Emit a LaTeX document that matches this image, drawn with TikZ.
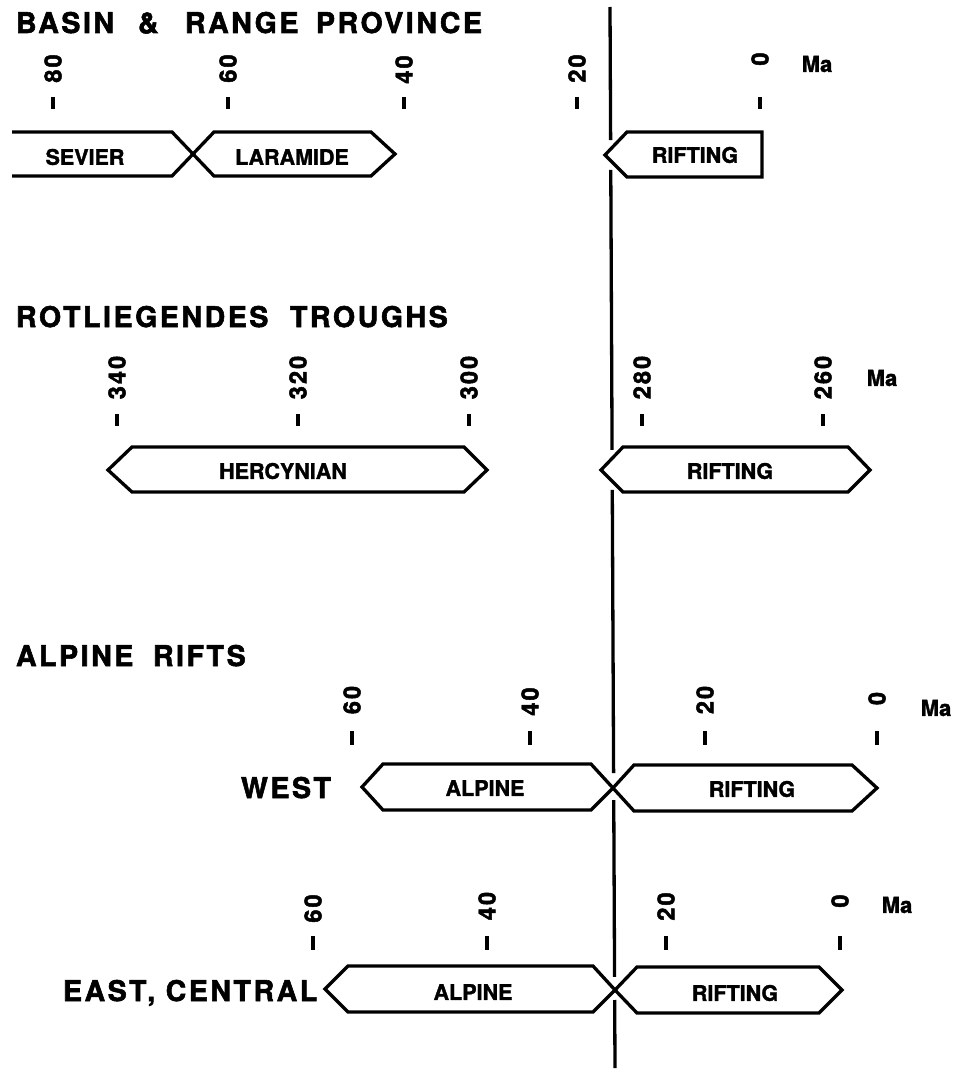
\documentclass[tikz,border=0pt]{standalone}
\usepackage{fontspec}
\setmainfont{TeX Gyre Heros}[FakeBold=1.5]
\newfontfamily\trackf{TeX Gyre Heros}[LetterSpace=9,FakeBold=2]
\usetikzlibrary{calc}
\tikzset{
  every node/.style={inner sep=0pt, outer sep=0pt},
  ttl/.style={font=\trackf\bfseries\fontsize{28.5}{30}\selectfont, anchor=base west},
  lbl/.style={font=\bfseries\fontsize{21.5}{23}\selectfont},
  num/.style={font=\trackf\bfseries\fontsize{23.5}{24}\selectfont, rotate=90},
  ma/.style={font=\bfseries\fontsize{22}{24}\selectfont},
  boxline/.style={line width=3.3pt, line join=miter},
  tickline/.style={line width=4pt},
  vline/.style={line width=3.3pt},
}
\begin{document}
\begin{tikzpicture}[x=1pt,y=-1pt]
\useasboundingbox (0,0) rectangle (954,1070);

% vertical reference line with gaps
\coordinate (vt) at (610,7);
\coordinate (vb) at (615,1068);
\draw[vline] (vt) -- ($(vt)!0.1254!(vb)$);
\draw[vline] ($(vt)!0.1536!(vb)$) -- ($(vt)!0.4175!(vb)$);
\draw[vline] ($(vt)!0.4552!(vb)$) -- ($(vt)!0.7220!(vb)$);
\draw[vline] ($(vt)!0.7474!(vb)$) -- ($(vt)!0.9142!(vb)$);
\draw[vline] ($(vt)!0.9359!(vb)$) -- (vb);

% ---------- BASIN & RANGE ----------
\node[ttl] (t1a) at (16,33) {BASIN};
\node[ttl] (t1b) at (138,33) {\&};
\node[ttl] (t1c) at (185,33) {RANGE};
\node[ttl] (t1d) at (316,33) {PROVINCE};

\foreach \x/\y/\t [count=\i] in {53/68.5/80,228/68.5/60,404/69.5/40,577/68.5/20,760/59/0}{
  \node[num] (n1\i) at (\x,\y) {\t};
}
\foreach \x in {53,228,404,577,760}{ \draw[tickline] (\x,97) -- (\x,109); }
\node[ma] (ma1) at (817,64) {Ma};

\draw[boxline] (12,132) -- (172,132) -- (193,154) -- (172,176) -- (12,176);
\draw[boxline] (193,154) -- (214,132) -- (371,132) -- (395,154) -- (371,176) -- (214,176) -- cycle;
\draw[boxline] (605,155) -- (627,132) -- (762,132) -- (762,177) -- (627,177) -- cycle;
\node[lbl] (sev) at (85,157) {SEVIER};
\node[lbl] (lar) at (292,157) {LARAMIDE};
\node[lbl] (rif1) at (695,155) {RIFTING};

% ---------- ROTLIEGENDES ----------
\node[ttl] (t2a) at (16,327) {ROTLIEGENDES};
\node[ttl] (t2b) at (290,327) {TROUGHS};

\foreach \x/\t [count=\i] in {117/340,298/320,469/300,642/280,823/260}{
  \node[num] (n2\i) at (\x,377.5) {\t};
  \draw[tickline] (\x,414) -- (\x,426);
}
\node[ma] (ma2) at (882,378) {Ma};

\draw[boxline] (108,470) -- (132,447) -- (464,447) -- (487,470) -- (464,492) -- (132,492) -- cycle;
\draw[boxline] (601,470) -- (623,447) -- (848,447) -- (870,470) -- (848,492) -- (623,492) -- cycle;
\node[lbl] (her) at (283,471) {HERCYNIAN};
\node[lbl] (rif2) at (730,471) {RIFTING};

% ---------- ALPINE RIFTS ----------
\node[ttl] (t3a) at (16,666) {ALPINE};
\node[ttl] (t3b) at (153,666) {RIFTS};

\foreach \x/\y/\t [count=\i] in {352/700/60,530/701.5/40,705/700/20,877/698.5/0}{
  \node[num] (n3\i) at (\x,\y) {\t};
  \draw[tickline] (\x,731) -- (\x,745);
}
\node[ma] (ma3) at (936,708) {Ma};

\node[ttl] (west) at (241,798) {WEST};
\draw[boxline] (362,787) -- (383,764) -- (591,764) -- (613,788) -- (591,810) -- (383,810) -- cycle;
\draw[boxline] (613,788) -- (634,765) -- (852,765) -- (877,788) -- (852,811) -- (634,811) -- cycle;
\node[lbl] (alp1) at (485,788) {ALPINE};
\node[lbl] (rif3) at (752,789) {RIFTING};

% ---------- EAST, CENTRAL ----------
\foreach \x/\y/\t [count=\i] in {313/908.5/60,487/906/40,666/906.5/20,840/901/0}{
  \node[num] (n4\i) at (\x,\y) {\t};
  \draw[tickline] (\x,936) -- (\x,950);
}
\node[ma] (ma4) at (897,905) {Ma};

\node[ttl] (east) at (63,1001) {EAST, CENTRAL};
\draw[boxline] (325,989) -- (348,966) -- (593,966) -- (615,990) -- (593,1012) -- (348,1012) -- cycle;
\draw[boxline] (615,990) -- (637,967) -- (819,967) -- (842,990) -- (819,1013) -- (637,1013) -- cycle;
\node[lbl] (alp2) at (473,992) {ALPINE};
\node[lbl] (rif4) at (735,993) {RIFTING};
\end{tikzpicture}
\end{document}
